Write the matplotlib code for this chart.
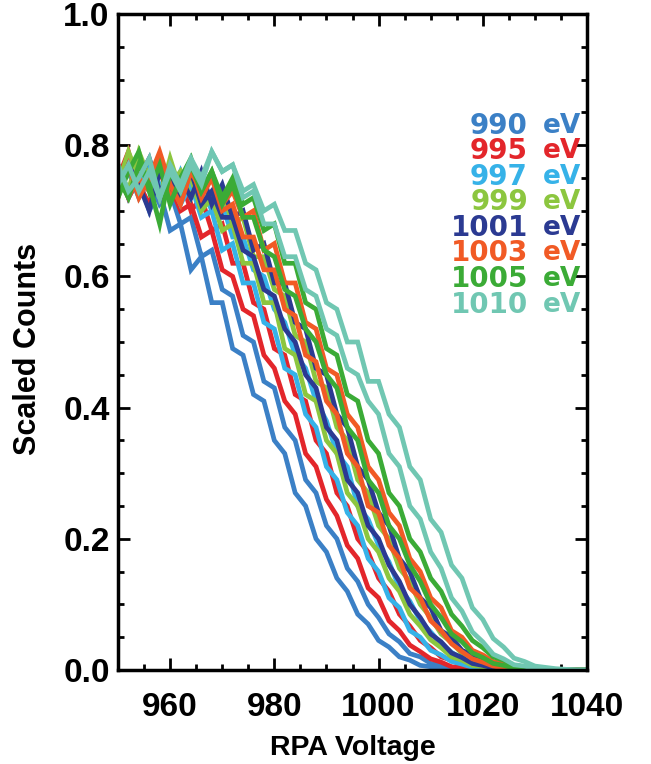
import matplotlib
matplotlib.use("Agg")
import matplotlib.pyplot as plt
from matplotlib.ticker import MultipleLocator

plt.rcParams["font.family"] = ["Liberation Sans", "DejaVu Sans"]
plt.rcParams["font.weight"] = "bold"

# RPA voltage grid (V), 2 V steps
voltage = list(range(950, 1042, 2))

energies = ["990", "995", "997", "999", "1001", "1003", "1005", "1010"]
colors = ["#3b80c6", "#e3262b", "#36b2e8", "#8cc63f", "#2b3a92", "#f15a25", "#3bab36", "#70c7b2"]

# two sweeps per beam energy
c990_a = [0.77, 0.72, 0.75, 0.70, 0.73, 0.67, 0.68, 0.61, 0.63, 0.56, 0.56, 0.49, 0.48, 0.42, 0.41, 0.35,
          0.33, 0.27, 0.25, 0.20, 0.18, 0.14, 0.12, 0.085, 0.07, 0.045, 0.035, 0.02, 0.015, 0.007, 0.005, 0.002,
          0, 0, 0, 0, 0, 0, 0, 0, 0, 0, 0, 0, 0, 0]
c990_b = [0.73, 0.76, 0.72, 0.75, 0.71, 0.73, 0.68, 0.69, 0.63, 0.64, 0.58, 0.57, 0.51, 0.50, 0.44, 0.43,
          0.37, 0.35, 0.29, 0.27, 0.22, 0.20, 0.155, 0.135, 0.10, 0.08, 0.055, 0.043, 0.025, 0.02, 0.01, 0.007,
          0.003, 0.001, 0, 0, 0, 0, 0, 0, 0, 0, 0, 0, 0, 0]
c995_a = [0.75, 0.79, 0.73, 0.76, 0.72, 0.74, 0.70, 0.71, 0.66, 0.67, 0.61, 0.60, 0.55, 0.54, 0.48, 0.46,
          0.41, 0.39, 0.33, 0.31, 0.26, 0.235, 0.19, 0.17, 0.125, 0.11, 0.075, 0.06, 0.038, 0.028, 0.017, 0.012,
          0.005, 0.003, 0.001, 0, 0, 0, 0, 0, 0, 0, 0, 0, 0, 0]
c995_b = [0.72, 0.77, 0.74, 0.71, 0.76, 0.72, 0.75, 0.70, 0.72, 0.67, 0.68, 0.62, 0.62, 0.56, 0.55, 0.49,
          0.48, 0.42, 0.41, 0.35, 0.33, 0.27, 0.25, 0.20, 0.18, 0.14, 0.12, 0.085, 0.067, 0.045, 0.034, 0.02,
          0.015, 0.007, 0.005, 0.002, 0, 0, 0, 0, 0, 0, 0, 0, 0, 0]
c997_a = [0.76, 0.73, 0.78, 0.74, 0.72, 0.75, 0.71, 0.74, 0.69, 0.70, 0.64, 0.65, 0.59, 0.59, 0.53, 0.52,
          0.46, 0.45, 0.39, 0.37, 0.31, 0.29, 0.24, 0.22, 0.17, 0.15, 0.11, 0.095, 0.06, 0.05, 0.03, 0.023,
          0.013, 0.009, 0.004, 0.002, 0, 0, 0, 0, 0, 0, 0, 0, 0, 0]
c997_b = [0.74, 0.78, 0.73, 0.77, 0.74, 0.72, 0.76, 0.72, 0.74, 0.70, 0.71, 0.66, 0.66, 0.61, 0.60, 0.55,
          0.53, 0.48, 0.46, 0.41, 0.38, 0.33, 0.31, 0.25, 0.23, 0.19, 0.165, 0.125, 0.105, 0.075, 0.058, 0.04,
          0.027, 0.017, 0.011, 0.006, 0.003, 0.001, 0, 0, 0, 0, 0, 0, 0, 0]
c999_a = [0.77, 0.73, 0.79, 0.75, 0.72, 0.78, 0.73, 0.75, 0.70, 0.72, 0.67, 0.68, 0.62, 0.62, 0.56, 0.56,
          0.49, 0.48, 0.42, 0.41, 0.35, 0.33, 0.27, 0.25, 0.20, 0.18, 0.14, 0.12, 0.085, 0.067, 0.046, 0.034,
          0.02, 0.015, 0.007, 0.005, 0.002, 0, 0, 0, 0, 0, 0, 0, 0, 0]
c999_b = [0.74, 0.79, 0.75, 0.73, 0.77, 0.74, 0.76, 0.72, 0.75, 0.71, 0.73, 0.68, 0.69, 0.63, 0.63, 0.58,
          0.57, 0.51, 0.50, 0.44, 0.43, 0.37, 0.35, 0.29, 0.27, 0.22, 0.20, 0.155, 0.135, 0.10, 0.08, 0.055,
          0.042, 0.025, 0.019, 0.01, 0.006, 0.003, 0.001, 0, 0, 0, 0, 0, 0, 0]
c1001_a = [0.76, 0.72, 0.75, 0.78, 0.73, 0.75, 0.72, 0.76, 0.71, 0.73, 0.69, 0.69, 0.64, 0.63, 0.58, 0.57,
           0.52, 0.50, 0.45, 0.43, 0.37, 0.35, 0.29, 0.27, 0.22, 0.20, 0.16, 0.135, 0.10, 0.08, 0.055, 0.043,
           0.026, 0.019, 0.01, 0.007, 0.003, 0.001, 0, 0, 0, 0, 0, 0, 0, 0]
c1001_b = [0.73, 0.77, 0.74, 0.70, 0.76, 0.73, 0.75, 0.72, 0.76, 0.71, 0.74, 0.69, 0.70, 0.64, 0.65, 0.59,
           0.59, 0.53, 0.52, 0.46, 0.45, 0.39, 0.37, 0.31, 0.29, 0.24, 0.22, 0.17, 0.15, 0.11, 0.095, 0.06,
           0.05, 0.03, 0.023, 0.013, 0.009, 0.004, 0.002, 0, 0, 0, 0, 0, 0, 0]
c1003_a = [0.76, 0.72, 0.75, 0.73, 0.78, 0.72, 0.74, 0.77, 0.72, 0.75, 0.70, 0.71, 0.66, 0.66, 0.61, 0.61,
           0.55, 0.54, 0.48, 0.47, 0.41, 0.39, 0.33, 0.31, 0.25, 0.24, 0.19, 0.17, 0.125, 0.11, 0.075, 0.06,
           0.04, 0.028, 0.017, 0.012, 0.006, 0.003, 0.001, 0, 0, 0, 0, 0, 0, 0]
c1003_b = [0.73, 0.77, 0.72, 0.75, 0.79, 0.74, 0.71, 0.76, 0.73, 0.75, 0.71, 0.73, 0.69, 0.70, 0.64, 0.65,
           0.59, 0.59, 0.53, 0.52, 0.46, 0.45, 0.39, 0.37, 0.31, 0.29, 0.24, 0.22, 0.17, 0.15, 0.11, 0.095,
           0.06, 0.05, 0.03, 0.023, 0.013, 0.009, 0.004, 0.002, 0, 0, 0, 0, 0, 0]
c1005_a = [0.75, 0.72, 0.77, 0.74, 0.68, 0.76, 0.73, 0.77, 0.73, 0.76, 0.71, 0.74, 0.69, 0.69, 0.64, 0.63,
           0.58, 0.57, 0.52, 0.50, 0.45, 0.43, 0.37, 0.35, 0.29, 0.27, 0.22, 0.20, 0.16, 0.135, 0.10, 0.08,
           0.055, 0.043, 0.026, 0.019, 0.01, 0.007, 0.003, 0.001, 0, 0, 0, 0, 0, 0]
c1005_b = [0.72, 0.76, 0.79, 0.73, 0.77, 0.71, 0.75, 0.78, 0.73, 0.76, 0.72, 0.75, 0.71, 0.72, 0.67, 0.68,
           0.62, 0.62, 0.56, 0.55, 0.49, 0.48, 0.42, 0.41, 0.35, 0.33, 0.27, 0.25, 0.20, 0.18, 0.14, 0.12,
           0.085, 0.067, 0.045, 0.034, 0.02, 0.015, 0.007, 0.005, 0.002, 0, 0, 0, 0, 0]
c1010_a = [0.74, 0.77, 0.73, 0.76, 0.72, 0.77, 0.74, 0.78, 0.75, 0.79, 0.76, 0.77, 0.72, 0.73, 0.68, 0.68,
           0.63, 0.63, 0.58, 0.57, 0.52, 0.51, 0.46, 0.45, 0.41, 0.39, 0.33, 0.31, 0.25, 0.23, 0.18, 0.155,
           0.11, 0.09, 0.058, 0.043, 0.024, 0.017, 0.008, 0.006, 0.002, 0.001, 0, 0, 0, 0]
c1010_b = [0.77, 0.73, 0.75, 0.78, 0.72, 0.76, 0.73, 0.77, 0.74, 0.79, 0.76, 0.77, 0.73, 0.74, 0.70, 0.71,
           0.67, 0.67, 0.62, 0.61, 0.56, 0.55, 0.50, 0.50, 0.44, 0.44, 0.39, 0.37, 0.31, 0.29, 0.23, 0.21,
           0.16, 0.14, 0.095, 0.077, 0.048, 0.035, 0.018, 0.013, 0.006, 0.004, 0.002, 0.001, 0, 0]

sweeps = [(c990_a, c990_b), (c995_a, c995_b), (c997_a, c997_b), (c999_a, c999_b),
          (c1001_a, c1001_b), (c1003_a, c1003_b), (c1005_a, c1005_b), (c1010_a, c1010_b)]

fig = plt.figure(figsize=(6.51, 7.64), dpi=100)
ax = fig.add_axes([118 / 651, 1 - 670 / 764, 469 / 651, 656 / 764])

for (ya, yb), col in zip(sweeps, colors):
    ax.plot(voltage, ya, color=col, lw=3.4, solid_joinstyle="miter")
    ax.plot(voltage, yb, color=col, lw=3.4, solid_joinstyle="miter")

ax.set_xlim(950, 1040)
ax.set_ylim(0, 1.0)
ax.xaxis.set_major_locator(MultipleLocator(20))
ax.xaxis.set_minor_locator(MultipleLocator(5))
ax.yaxis.set_minor_locator(MultipleLocator(0.05))
ax.set_yticks([0.0, 0.2, 0.4, 0.6, 0.8, 1.0])
ax.set_yticklabels(["0.0", "0.2", "0.4", "0.6", "0.8", "1.0"])

ax.tick_params(which="both", direction="in", top=True, right=True, width=2, labelsize=24)
ax.tick_params(which="major", length=8.5)
ax.tick_params(which="minor", length=4.3)
ax.tick_params(axis="x", pad=16)
ax.tick_params(axis="y", pad=6)
for sp in ax.spines.values():
    sp.set_linewidth(2.5)

ax.set_xlabel("RPA Voltage", fontsize=20.5, fontweight="bold")
ax.xaxis.set_label_coords(0.5, (670 - 735) / 656)
ax.set_ylabel("Scaled Counts", fontsize=22, fontweight="bold")
ax.yaxis.set_label_coords((43 - 118) / 469, 0.49)

# energy labels
for i, (lab, col) in enumerate(zip(energies, colors)):
    yy = 0.830 - i * 0.039
    ax.text(0.874, yy, lab, transform=ax.transAxes, color=col, family="DejaVu Sans",
            fontsize=20, ha="right", va="center")
    ax.text(0.906, yy, "eV", transform=ax.transAxes, color=col, family="DejaVu Sans",
            fontsize=19, ha="left", va="center")

plt.savefig("out.png", dpi=100)
